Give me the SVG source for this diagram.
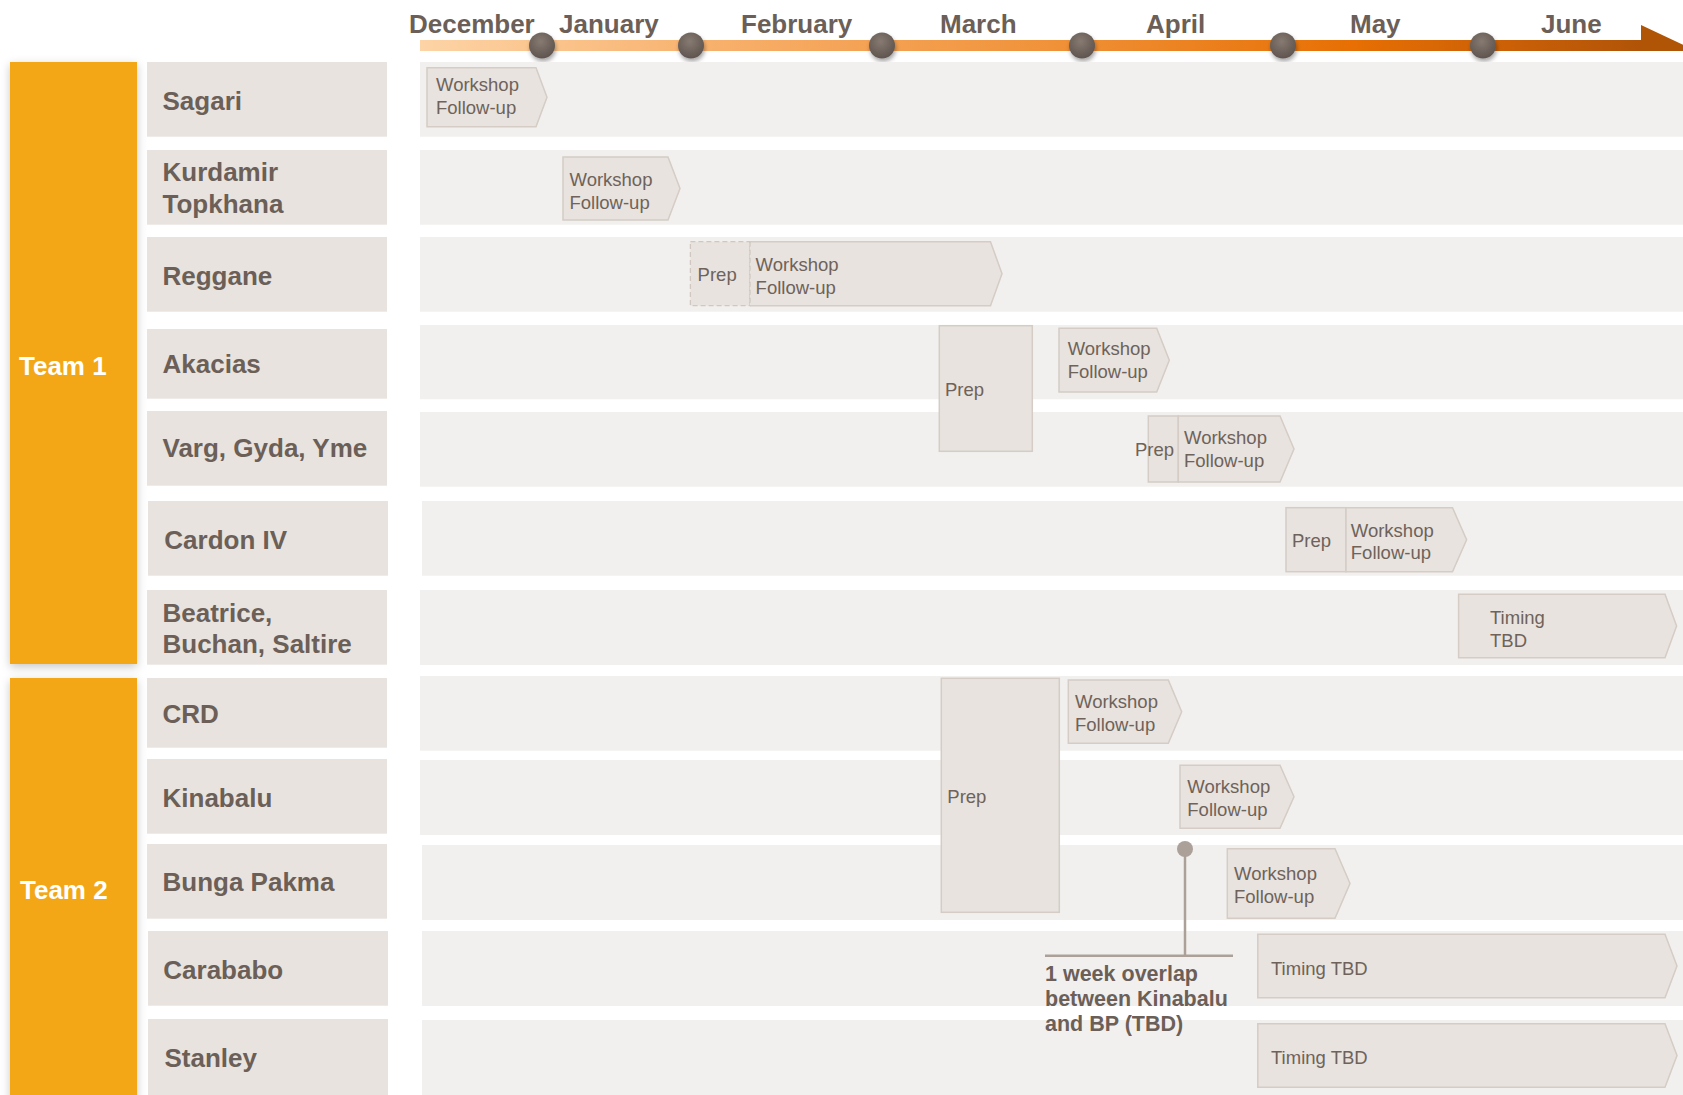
<svg xmlns="http://www.w3.org/2000/svg" width="1683" height="1095" viewBox="0 0 1683 1095">
<defs>
<style>
.team{fill:#f3a712}
.lbl{fill:#e8e3de}
.row{fill:#f2f0ee}
.task{fill:#e8e3de;stroke:#d4ccc5;stroke-width:1.5}
.dash{fill:#e8e3de;stroke:#cfc7c0;stroke-width:1.3;stroke-dasharray:5 3}
.lt{font-family:"Liberation Sans",Arial,sans-serif;font-weight:bold;font-size:26px;fill:#6b5f58}
.mt{font-family:"Liberation Sans",Arial,sans-serif;font-weight:bold;font-size:26px;fill:#6b5f58}
.tm{font-family:"Liberation Sans",Arial,sans-serif;font-weight:bold;font-size:26px;fill:#ffffff}
.tt{font-family:"Liberation Sans",Arial,sans-serif;font-size:18.5px;fill:#6e625a}
.ct{font-family:"Liberation Sans",Arial,sans-serif;font-weight:bold;font-size:21.5px;fill:#6b5f58}
.call{stroke:#aca199;stroke-width:2.5;fill:none}
.ms{fill:url(#msg);filter:url(#msh)}
</style>
<linearGradient id="bar" gradientUnits="userSpaceOnUse" x1="420" y1="0" x2="1683" y2="0">
<stop offset="0" stop-color="#fdd4a6"/>
<stop offset="0.25" stop-color="#f7ae68"/>
<stop offset="0.5" stop-color="#f09239"/>
<stop offset="0.74" stop-color="#e76f03"/>
<stop offset="0.87" stop-color="#c95f07"/>
<stop offset="1" stop-color="#a85008"/>
</linearGradient>
<radialGradient id="msg" cx="0.45" cy="0.35" r="0.7">
<stop offset="0" stop-color="#867a72"/>
<stop offset="1" stop-color="#5c524c"/>
</radialGradient>
<filter id="msh" x="-50%" y="-50%" width="200%" height="200%">
<feDropShadow dx="1" dy="3" stdDeviation="2" flood-color="#000" flood-opacity="0.35"/>
</filter>
<filter id="tsh" x="-20%" y="-5%" width="140%" height="110%">
<feDropShadow dx="0" dy="3" stdDeviation="5" flood-color="#000" flood-opacity="0.22"/>
</filter>
</defs>
<rect width="1683" height="1095" fill="#ffffff"/>

<g id="timeline">
<rect x="420" y="40" width="1222" height="11" fill="url(#bar)"/>
<polygon points="1641,25 1690,48 1683,51 1641,51" fill="#b05406"/>
<circle class="ms" cx="542" cy="45.5" r="13"/>
<circle class="ms" cx="691" cy="45.5" r="13"/>
<circle class="ms" cx="882" cy="45.5" r="13"/>
<circle class="ms" cx="1082" cy="45.5" r="13"/>
<circle class="ms" cx="1283" cy="45.5" r="13"/>
<circle class="ms" cx="1483" cy="45.5" r="13"/>
<text class="mt" x="409" y="32.5">December</text>
<text class="mt" x="559" y="32.5">January</text>
<text class="mt" x="741" y="32.5">February</text>
<text class="mt" x="940" y="32.5">March</text>
<text class="mt" x="1146" y="32.5">April</text>
<text class="mt" x="1350" y="32.5">May</text>
<text class="mt" x="1541" y="32.5">June</text>
</g>

<g id="rows">
<rect class="row" x="420" y="62" width="1263" height="74.7"/>
<rect class="row" x="420" y="150" width="1263" height="74.7"/>
<rect class="row" x="420" y="237" width="1263" height="74.7"/>
<rect class="row" x="420" y="325" width="1263" height="74.3"/>
<rect class="row" x="420" y="412" width="1263" height="74.7"/>
<rect class="row" x="422" y="501" width="1261" height="74.7"/>
<rect class="row" x="420" y="590" width="1263" height="75"/>
<rect class="row" x="420" y="676" width="1263" height="74.7"/>
<rect class="row" x="420" y="760" width="1263" height="75"/>
<rect class="row" x="422" y="845" width="1261" height="75"/>
<rect class="row" x="422" y="931" width="1261" height="75"/>
<rect class="row" x="422" y="1020" width="1261" height="75"/>
</g>

<g id="team1">
<rect class="team" x="10" y="62" width="127" height="602" filter="url(#tsh)"/>
<text class="tm" x="19" y="374.5">Team 1</text>
</g>
<g id="team2">
<rect class="team" x="10" y="678" width="127" height="430" filter="url(#tsh)"/>
<text class="tm" x="20" y="899">Team 2</text>
</g>

<g id="label-sagari"><rect class="lbl" x="147" y="62" width="240" height="74.7"/><text class="lt" x="162.5" y="110">Sagari</text></g>
<g id="label-kurdamir"><rect class="lbl" x="147" y="150" width="240" height="74.7"/><text class="lt" x="162.5" y="180.7">Kurdamir</text><text class="lt" x="162.5" y="212.7">Topkhana</text></g>
<g id="label-reggane"><rect class="lbl" x="147" y="237" width="240" height="74.7"/><text class="lt" x="162.5" y="285.3">Reggane</text></g>
<g id="label-akacias"><rect class="lbl" x="147" y="329" width="240" height="69.7"/><text class="lt" x="162.5" y="373.3">Akacias</text></g>
<g id="label-varg"><rect class="lbl" x="147" y="411" width="240" height="74.7"/><text class="lt" x="162.5" y="457.3">Varg, Gyda, Yme</text></g>
<g id="label-cardon"><rect class="lbl" x="148" y="501" width="240" height="74.7"/><text class="lt" x="164.3" y="548.7">Cardon IV</text></g>
<g id="label-beatrice"><rect class="lbl" x="147" y="590" width="240" height="74.7"/><text class="lt" x="162.5" y="621.7">Beatrice,</text><text class="lt" x="162.5" y="652.7">Buchan, Saltire</text></g>
<g id="label-crd"><rect class="lbl" x="147" y="678" width="240" height="69.7"/><text class="lt" x="162.5" y="722.7">CRD</text></g>
<g id="label-kinabalu"><rect class="lbl" x="147" y="759" width="240" height="74.7"/><text class="lt" x="162.5" y="806.7">Kinabalu</text></g>
<g id="label-bunga"><rect class="lbl" x="147" y="844" width="240" height="74.7"/><text class="lt" x="162.5" y="890.7">Bunga Pakma</text></g>
<g id="label-carababo"><rect class="lbl" x="148" y="931" width="240" height="74.7"/><text class="lt" x="163.3" y="979.3">Carababo</text></g>
<g id="label-stanley"><rect class="lbl" x="148" y="1019" width="240" height="76"/><text class="lt" x="164.5" y="1066.7">Stanley</text></g>

<g id="task-sagari">
<path class="task" d="M427 67.7H536L547 97.2L536 126.7H427Z"/>
<text class="tt" x="436" y="90.7">Workshop</text><text class="tt" x="436" y="114">Follow-up</text>
</g>
<g id="task-kurdamir">
<path class="task" d="M563 157H668L680 188.5L668 220H563Z"/>
<text class="tt" x="569.5" y="186">Workshop</text><text class="tt" x="569.5" y="208.5">Follow-up</text>
</g>
<g id="task-reggane">
<rect class="dash" x="690.4" y="241.7" width="59.6" height="64"/>
<path class="task" d="M750 241.7H990.5L1002 273.7L990.5 305.7H750"/>
<line x1="750" y1="241.7" x2="750" y2="305.7" stroke="#cfc7c0" stroke-width="1.3" stroke-dasharray="5 3"/>
<text class="tt" x="697.6" y="281">Prep</text>
<text class="tt" x="755.6" y="271">Workshop</text><text class="tt" x="755.6" y="293.5">Follow-up</text>
</g>
<g id="task-akacias-prep">
<rect class="task" x="939.3" y="325.7" width="93" height="125.6"/>
<text class="tt" x="945" y="395.7">Prep</text>
</g>
<g id="task-akacias">
<path class="task" d="M1059 328.3H1156.7L1169.3 360.2L1156.7 392H1059Z"/>
<text class="tt" x="1067.7" y="355">Workshop</text><text class="tt" x="1067.7" y="378">Follow-up</text>
</g>
<g id="task-varg">
<rect class="task" x="1148.3" y="416" width="30" height="66"/>
<path class="task" d="M1178.3 416H1280L1294 449L1280 482H1178.3Z"/>
<text class="tt" x="1135" y="456">Prep</text>
<text class="tt" x="1184" y="444.3">Workshop</text><text class="tt" x="1184" y="467.3">Follow-up</text>
</g>
<g id="task-cardon">
<rect class="task" x="1286" y="507.7" width="60" height="64"/>
<path class="task" d="M1346 507.7H1452.5L1466.6 539.7L1452.5 571.7H1346Z"/>
<text class="tt" x="1292" y="546.7">Prep</text>
<text class="tt" x="1350.8" y="536.7">Workshop</text><text class="tt" x="1350.8" y="559.3">Follow-up</text>
</g>
<g id="task-beatrice">
<path class="task" d="M1458.6 594.3H1665L1676.6 626L1665 657.7H1458.6Z"/>
<text class="tt" x="1490" y="624">Timing</text><text class="tt" x="1490" y="646.5">TBD</text>
</g>
<g id="task-team2-prep">
<rect class="task" x="941.3" y="678.3" width="118" height="234"/>
<text class="tt" x="947.3" y="803.3">Prep</text>
</g>
<g id="task-crd">
<path class="task" d="M1068.3 680H1168.3L1181.7 711.7L1168.3 743.3H1068.3Z"/>
<text class="tt" x="1075" y="708.3">Workshop</text><text class="tt" x="1075" y="731">Follow-up</text>
</g>
<g id="task-kinabalu">
<path class="task" d="M1180 765.3H1280L1294 796.8L1280 828.3H1180Z"/>
<text class="tt" x="1187.3" y="793.3">Workshop</text><text class="tt" x="1187.3" y="816">Follow-up</text>
</g>
<g id="task-bunga">
<path class="task" d="M1227.3 848.7H1335L1350 883.5L1335 918.3H1227.3Z"/>
<text class="tt" x="1234" y="880">Workshop</text><text class="tt" x="1234" y="902.5">Follow-up</text>
</g>
<g id="task-carababo">
<path class="task" d="M1257.8 934.3H1665L1677 966L1665 997.7H1257.8Z"/>
<text class="tt" x="1271" y="975">Timing TBD</text>
</g>
<g id="task-stanley">
<path class="task" d="M1257.8 1023.7H1665L1677 1055.5L1665 1087.3H1257.8Z"/>
<text class="tt" x="1271" y="1064.3">Timing TBD</text>
</g>

<g id="connectors">
<circle cx="1185" cy="849" r="8" fill="#aca199"/>
<path class="call" d="M1185 849V955.7M1045 955.7H1233"/>
</g>
<g id="note">
<text class="ct" x="1045" y="980.7">1 week overlap</text>
<text class="ct" x="1045" y="1005.5">between Kinabalu</text>
<text class="ct" x="1045" y="1031">and BP (TBD)</text>
</g>
</svg>
